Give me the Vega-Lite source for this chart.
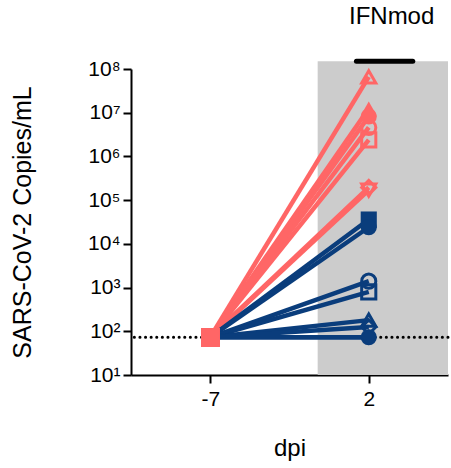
{
  "$schema": "https://vega.github.io/schema/vega-lite/v6.json",
  "width": 317,
  "height": 306,
  "autosize": {"type": "none"},
  "padding": {"left": 131, "top": 69, "right": 3, "bottom": 93},
  "config": {"view": {"stroke": null}, "font": "Liberation Sans"},
  "datasets": {
    "virus": [
      {"animal": "P1", "group": "Control", "dpi": -7, "copies": 73},
      {"animal": "P1", "group": "Control", "dpi": 2, "copies": 66000000},
      {"animal": "P2", "group": "Control", "dpi": -7, "copies": 73},
      {"animal": "P2", "group": "Control", "dpi": 2, "copies": 12500000},
      {"animal": "P3", "group": "Control", "dpi": -7, "copies": 73},
      {"animal": "P3", "group": "Control", "dpi": 2, "copies": 8200000},
      {"animal": "P4", "group": "Control", "dpi": -7, "copies": 73},
      {"animal": "P4", "group": "Control", "dpi": 2, "copies": 4600000},
      {"animal": "P5", "group": "Control", "dpi": -7, "copies": 73},
      {"animal": "P5", "group": "Control", "dpi": 2, "copies": 2400000},
      {"animal": "P6", "group": "Control", "dpi": -7, "copies": 73},
      {"animal": "P6", "group": "Control", "dpi": 2, "copies": 170000},
      {"animal": "P7", "group": "Control", "dpi": -7, "copies": 73},
      {"animal": "P7", "group": "Control", "dpi": 2, "copies": 195000},
      {"animal": "B1", "group": "IFNmod", "dpi": -7, "copies": 73},
      {"animal": "B1", "group": "IFNmod", "dpi": 2, "copies": 36000},
      {"animal": "B2", "group": "IFNmod", "dpi": -7, "copies": 73},
      {"animal": "B2", "group": "IFNmod", "dpi": 2, "copies": 24000},
      {"animal": "B3", "group": "IFNmod", "dpi": -7, "copies": 73},
      {"animal": "B3", "group": "IFNmod", "dpi": 2, "copies": 1400},
      {"animal": "B4", "group": "IFNmod", "dpi": -7, "copies": 73},
      {"animal": "B4", "group": "IFNmod", "dpi": 2, "copies": 800},
      {"animal": "B5", "group": "IFNmod", "dpi": -7, "copies": 73},
      {"animal": "B5", "group": "IFNmod", "dpi": 2, "copies": 180},
      {"animal": "B6", "group": "IFNmod", "dpi": -7, "copies": 73},
      {"animal": "B6", "group": "IFNmod", "dpi": 2, "copies": 125},
      {"animal": "B7", "group": "IFNmod", "dpi": -7, "copies": 73},
      {"animal": "B7", "group": "IFNmod", "dpi": 2, "copies": 73},
      {"animal": "B8", "group": "IFNmod", "dpi": -7, "copies": 73},
      {"animal": "B8", "group": "IFNmod", "dpi": 2, "copies": 73}
    ],
    "shade": [{"x": -0.9, "x2": 6.5, "y": 10, "y2": 150000000}],
    "bar": [{"x": 1.3, "x2": 4.5, "y": 150000000}],
    "label": [{"x": 3.3, "y": 1550000000, "text": "IFNmod"}],
    "lod": [{"y": 73}]
  },
  "layer": [
    {
      "data": {"name": "shade"},
      "mark": {"type": "rect", "color": "#cccccc"},
      "encoding": {
        "x": {
          "field": "x", "type": "quantitative",
          "scale": {"domain": [-11.5, 6.5], "nice": false, "zero": false},
          "axis": {
            "values": [-7, 2], "title": "dpi", "grid": false,
            "labelExpr": "toString(datum.value)",
            "titleFontSize": 24, "titleFontWeight": "normal", "titleColor": "black", "titlePadding": 27,
            "labelFontSize": 21, "labelColor": "black", "labelPadding": 5,
            "tickSize": 8, "tickWidth": 2, "tickColor": "black",
            "domainWidth": 2, "domainColor": "black"
          }
        },
        "x2": {"field": "x2"},
        "y": {
          "field": "y", "type": "quantitative",
          "scale": {"type": "log", "domain": [10, 100000000], "nice": false},
          "axis": {
            "values": [10, 100, 1000, 10000, 100000, 1000000, 10000000, 100000000],
            "labelExpr": "'10' + ['⁰','¹','²','³','⁴','⁵','⁶','⁷','⁸'][round(log(datum.value)/LN10)]",
            "title": "SARS-CoV-2 Copies/mL", "grid": false,
            "titleFontSize": 25, "titleFontWeight": "normal", "titleColor": "black", "titlePadding": 52,
            "labelFontSize": 21, "labelColor": "black", "labelPadding": 3,
            "tickSize": 8, "tickWidth": 2, "tickColor": "black",
            "domainWidth": 2, "domainColor": "black"
          }
        },
        "y2": {"field": "y2"}
      }
    },
    {
      "data": {"name": "lod"},
      "mark": {"type": "rule", "color": "black", "strokeWidth": 3, "strokeDash": [0.1, 5.5], "strokeCap": "round"},
      "encoding": {"y": {"field": "y", "type": "quantitative"}}
    },
    {
      "data": {"name": "bar"},
      "mark": {"type": "rule", "color": "black", "strokeWidth": 5, "strokeCap": "round"},
      "encoding": {
        "x": {"field": "x", "type": "quantitative"},
        "x2": {"field": "x2"},
        "y": {"field": "y", "type": "quantitative"}
      }
    },
    {
      "data": {"name": "label"},
      "mark": {"type": "text", "fontSize": 24, "color": "black", "baseline": "middle", "align": "center"},
      "encoding": {
        "x": {"field": "x", "type": "quantitative"},
        "y": {"field": "y", "type": "quantitative"},
        "text": {"field": "text"}
      }
    },
    {
      "data": {"name": "virus"},
      "transform": [{"filter": "datum.group === 'Control'"}],
      "mark": {"type": "line", "strokeWidth": 4.5},
      "encoding": {
        "x": {"field": "dpi", "type": "quantitative"},
        "y": {"field": "copies", "type": "quantitative"},
        "detail": {"field": "animal"},
        "color": {"field": "group", "type": "nominal", "scale": {"domain": ["Control", "IFNmod"], "range": ["#ff6666", "#0a3d7c"]}, "legend": null}
      }
    },
    {
      "data": {"name": "virus"},
      "transform": [{"filter": "datum.group === 'IFNmod'"}],
      "mark": {"type": "line", "strokeWidth": 4.5},
      "encoding": {
        "x": {"field": "dpi", "type": "quantitative"},
        "y": {"field": "copies", "type": "quantitative"},
        "detail": {"field": "animal"},
        "color": {"field": "group", "type": "nominal", "legend": null}
      }
    },
    {
      "data": {"name": "virus"},
      "transform": [{"filter": "datum.dpi === 2"}, {"filter": {"field": "animal", "oneOf": ["P1", "P4", "P5", "P6", "P7", "B3", "B4", "B5", "B6"]}}],
      "mark": {"type": "point", "filled": false, "strokeWidth": 3, "size": 200, "opacity": 1},
      "encoding": {
        "x": {"field": "dpi", "type": "quantitative"},
        "y": {"field": "copies", "type": "quantitative"},
        "shape": {"field": "animal", "type": "nominal", "legend": null,
          "scale": {"domain": ["P1", "P2", "P3", "P4", "P5", "P6", "P7", "B1", "B2", "B3", "B4", "B5", "B6", "B7", "B8"],
                    "range": ["triangle-up", "triangle-up", "circle", "circle", "square", "triangle-down", "diamond", "square", "circle", "circle", "square", "triangle-up", "diamond", "circle", "diamond"]}},
        "color": {"field": "group", "type": "nominal", "legend": null}
      }
    },
    {
      "data": {"name": "virus"},
      "transform": [{"filter": "datum.dpi === 2"}, {"filter": {"field": "animal", "oneOf": ["P2", "P3", "B1", "B2", "B7", "B8"]}}],
      "mark": {"type": "point", "filled": true, "size": 260, "opacity": 1},
      "encoding": {
        "x": {"field": "dpi", "type": "quantitative"},
        "y": {"field": "copies", "type": "quantitative"},
        "shape": {"field": "animal", "type": "nominal", "legend": null},
        "color": {"field": "group", "type": "nominal", "legend": null}
      }
    },
    {
      "data": {"name": "virus"},
      "transform": [{"filter": "datum.dpi === -7"}],
      "mark": {"type": "square", "size": 340, "color": "#ff6666", "opacity": 1},
      "encoding": {
        "x": {"field": "dpi", "type": "quantitative"},
        "y": {"field": "copies", "type": "quantitative"}
      }
    }
  ]
}
